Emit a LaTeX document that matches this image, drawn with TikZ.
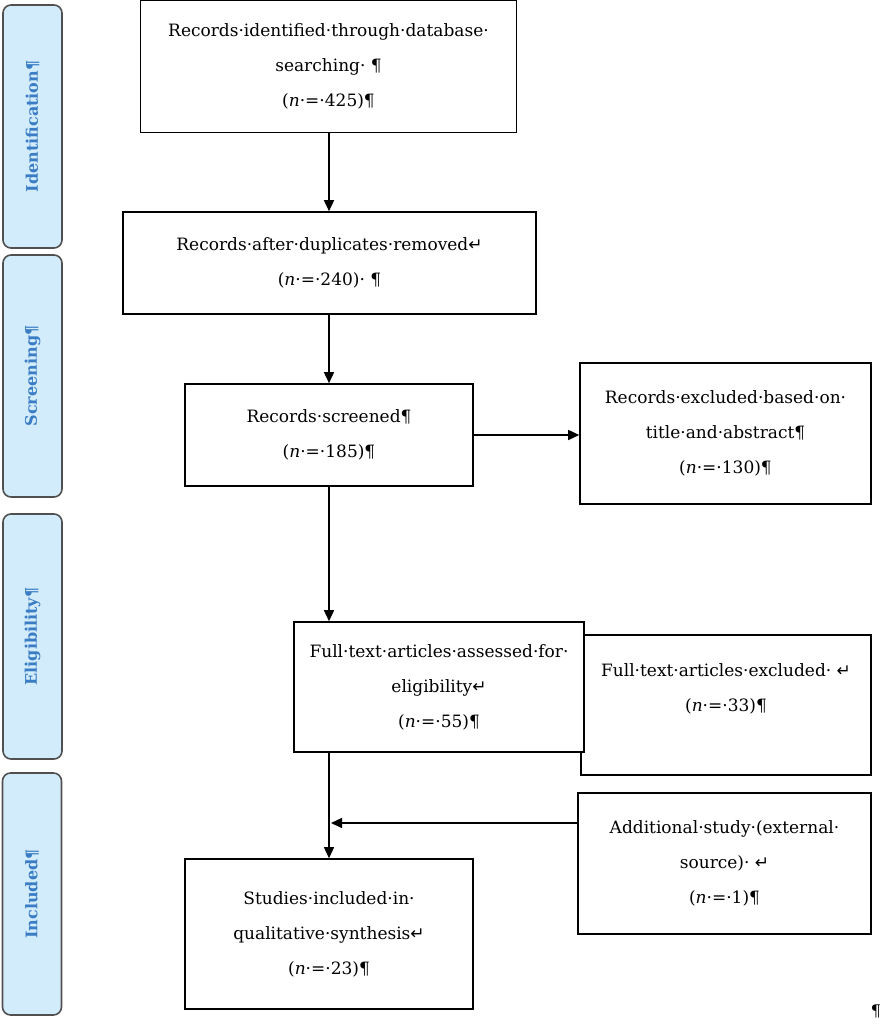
\documentclass[tikz,border=0pt]{standalone}
\usepackage{fontspec}
\setmainfont{DejaVu Serif}
\newfontfamily\symfont{DejaVu Sans}
\usetikzlibrary{arrows.meta,calc}
\definecolor{phasefill}{HTML}{D2ECFC}
\definecolor{phaseborder}{HTML}{505050}
\definecolor{phaseink}{HTML}{3B7DC4}
\newcommand\lbk{{\symfont ↵}}
\newcommand\nn{\textit{n}}
\begin{document}
\begin{tikzpicture}[x=1pt,y=-1pt,
  box/.style={draw=black, line width=1.6pt, fill=white, inner sep=0pt, align=center,
    font=\fontsize{17}{35}\selectfont},
  phase/.style={draw=phaseborder, line width=1.6pt, fill=phasefill, rounded corners=8pt,
    inner sep=0pt, rotate=90, minimum height=59pt, text=phaseink,
    font=\bfseries\fontsize{16}{18}\selectfont},
  arr/.style={line width=1.5pt, -{Triangle[length=11pt,width=10pt]}}
]
\useasboundingbox (0,0) rectangle (883,1024);

% phase labels
\node[phase, minimum width=243pt] (ph1) at (32.5,126.5) {Identification¶};
\node[phase, minimum width=242pt] (ph2) at (32.5,376) {Screening¶};
\node[phase, minimum width=245pt] (ph3) at (32.5,636.5) {Eligibility¶};
\node[phase, minimum width=242pt] (ph4) at (32,894) {Included¶};

% boxes
\node[box, minimum width=376pt, minimum height=132pt] (b1) at (328.5,66.5)
  {Records·identified·through·database·\\searching· ¶\\(\nn·=·425)¶};
\node[box, minimum width=413pt, minimum height=102pt] (b2) at (329.5,263)
  {Records·after·duplicates·removed\lbk\\(\nn·=·240)· ¶};
\node[box, minimum width=288pt, minimum height=102pt] (b3) at (329,435)
  {Records·screened¶\\(\nn·=·185)¶};
\node[box, minimum width=291pt, minimum height=141pt] (b4) at (725.5,433.5)
  {Records·excluded·based·on·\\title·and·abstract¶\\(\nn·=·130)¶};
\node[box, minimum width=290pt, minimum height=140pt] (b6) at (726,705)
  {Full·text·articles·excluded· \lbk\\(\nn·=·33)¶\\\mbox{}};
\node[box, minimum width=290pt, minimum height=130pt] (b5) at (439,687)
  {Full·text·articles·assessed·for·\\eligibility\lbk\\(\nn·=·55)¶};
\node[box, minimum width=293pt, minimum height=141pt] (b8) at (724.5,863.5)
  {Additional·study·(external·\\source)· \lbk\\(\nn·=·1)¶};
\node[box, minimum width=288pt, minimum height=150pt] (b7) at (329,934)
  {Studies·included·in·\\qualitative·synthesis\lbk\\(\nn·=·23)¶};

\node[font=\fontsize{16}{16}\selectfont, inner sep=0pt] (pil) at (876,1011) {¶};

% connectors
\draw[arr] (b1.south -| b3.north) -- (b2.north -| b3.north);
\draw[arr] (b2.south -| b3.north) -- (b3.north);
\draw[arr] (b3.east) -- (b3.east -| b4.west);
\draw[arr] (b3.south) -- (b3.south |- b5.north);
\draw[arr] (b3.south |- b5.south) -- (b7.north);
\coordinate (join) at ($(b7.north)+(2,-111)$);
\draw[arr] ([yshift=40.5pt]b8.west) -- ([yshift=40.5pt]b8.west -| join);
\end{tikzpicture}
\end{document}
